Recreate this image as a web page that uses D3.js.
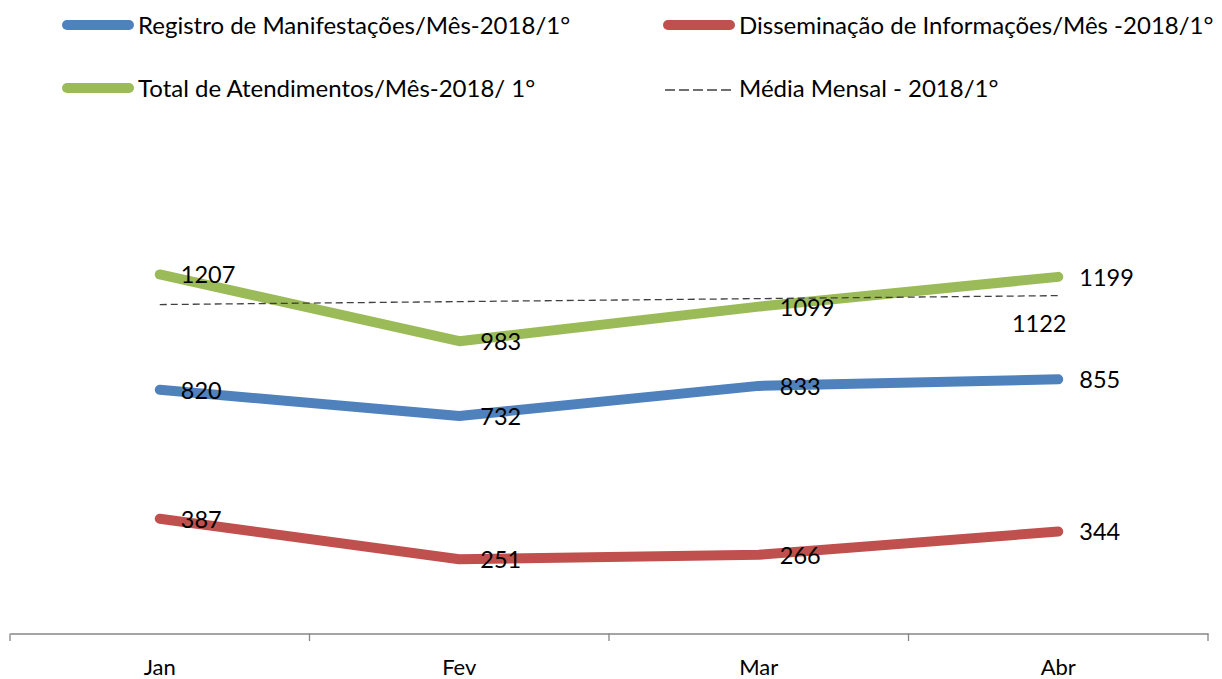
<!DOCTYPE html>
<html>
<head>
<meta charset="utf-8">
<script src="https://cdn.jsdelivr.net/npm/d3@7"></script>
<style>
  body { margin: 0; background: #fff; }
  svg { display: block; font-family: Lato, "Noto Sans", sans-serif; }
</style>
</head>
<body>
<div id="chart"></div>
<script>
const months = ["Jan", "Fev", "Mar", "Abr"];
const registro = [820, 732, 833, 855];
const disseminacao = [387, 251, 266, 344];
const total = [1207, 983, 1099, 1199];
const media = [1106, 1116, 1126, 1136];
const mediaLabel = 1122;

const seriesNames = [
  "Registro de Manifestações/Mês-2018/1°",
  "Disseminação de Informações/Mês -2018/1°",
  "Total de Atendimentos/Mês-2018/ 1°",
  "Média Mensal - 2018/1°"
];

const width = 1222, height = 679;
const svg = d3.select("#chart").append("svg")
  .attr("width", width)
  .attr("height", height);

const x = d3.scaleBand().domain(months).range([10, 1208]);
const y = d3.scaleLinear().domain([0, 1400]).range([634, 217]);
const cx = m => x(m) + x.bandwidth() / 2;

// axis
const axis = svg.append("g")
  .attr("transform", "translate(0,633.5)")
  .call(d3.axisBottom(x).tickSize(0).tickPadding(26));
axis.select(".domain").attr("stroke", "#868686").attr("stroke-width", 1.3);
axis.selectAll("text").attr("font-size", 22).attr("fill", "#000").attr("font-family", "Lato, sans-serif");
// tick marks on band boundaries
const bounds = months.map(m => x(m)).concat([x.range()[1]]);
svg.append("g").selectAll("line")
  .data(bounds)
  .join("line")
    .attr("x1", d => d).attr("x2", d => d)
    .attr("y1", 633.5).attr("y2", 641)
    .attr("stroke", "#868686").attr("stroke-width", 1.3);

const line = d3.line().x((d, i) => cx(months[i])).y(d => y(d));

const series = [
  { values: registro, color: "#4F81BD" },
  { values: disseminacao, color: "#C0504D" },
  { values: total, color: "#9BBB59" }
];

series.forEach(s => {
  svg.append("path")
    .datum(s.values)
    .attr("d", line)
    .attr("fill", "none")
    .attr("stroke", s.color)
    .attr("stroke-width", 10)
    .attr("stroke-linecap", "round")
    .attr("stroke-linejoin", "round");
});

svg.append("path")
  .datum(media)
  .attr("d", line)
  .attr("fill", "none")
  .attr("stroke", "#404040")
  .attr("stroke-width", 1.3)
  .attr("stroke-dasharray", "7,4");

// data labels
series.forEach(s => {
  svg.append("g").selectAll("text")
    .data(s.values)
    .join("text")
      .attr("x", (d, i) => cx(months[i]) + 21)
      .attr("y", d => y(d))
      .attr("dy", "0.38em")
      .attr("font-size", 23.5)
      .attr("fill", "#000")
      .text(d => d);
});

svg.append("text")
  .attr("x", cx("Abr") - 19)
  .attr("y", y(media[3]) + 27)
  .attr("dy", "0.38em")
  .attr("text-anchor", "middle")
  .attr("font-size", 23.5)
  .attr("fill", "#000")
  .text(mediaLabel);

// legend
const legendItems = [
  { name: seriesNames[0], color: "#4F81BD", x: 62, y: 25, dash: false },
  { name: seriesNames[1], color: "#C0504D", x: 663, y: 25, dash: false },
  { name: seriesNames[2], color: "#9BBB59", x: 62, y: 88, dash: false },
  { name: seriesNames[3], color: "#404040", x: 665, y: 90, dash: true }
];

const lg = svg.append("g").selectAll("g")
  .data(legendItems)
  .join("g")
    .attr("transform", d => `translate(${d.x},${d.y})`);

lg.append("line")
  .attr("x1", d => d.dash ? 0 : 5)
  .attr("x2", d => d.dash ? 68 : 67)
  .attr("y1", 0).attr("y2", 0)
  .attr("stroke", d => d.color)
  .attr("stroke-width", d => d.dash ? 1.3 : 10)
  .attr("stroke-linecap", d => d.dash ? "butt" : "round")
  .attr("stroke-dasharray", d => d.dash ? "10,4" : null);

lg.append("text")
  .attr("x", d => d.dash ? 74 : 76)
  .attr("y", d => d.dash ? -2 : 0)
  .attr("dy", "0.36em")
  .attr("font-size", 24)
  .attr("fill", "#000")
  .text(d => d.name);
</script>
</body>
</html>
